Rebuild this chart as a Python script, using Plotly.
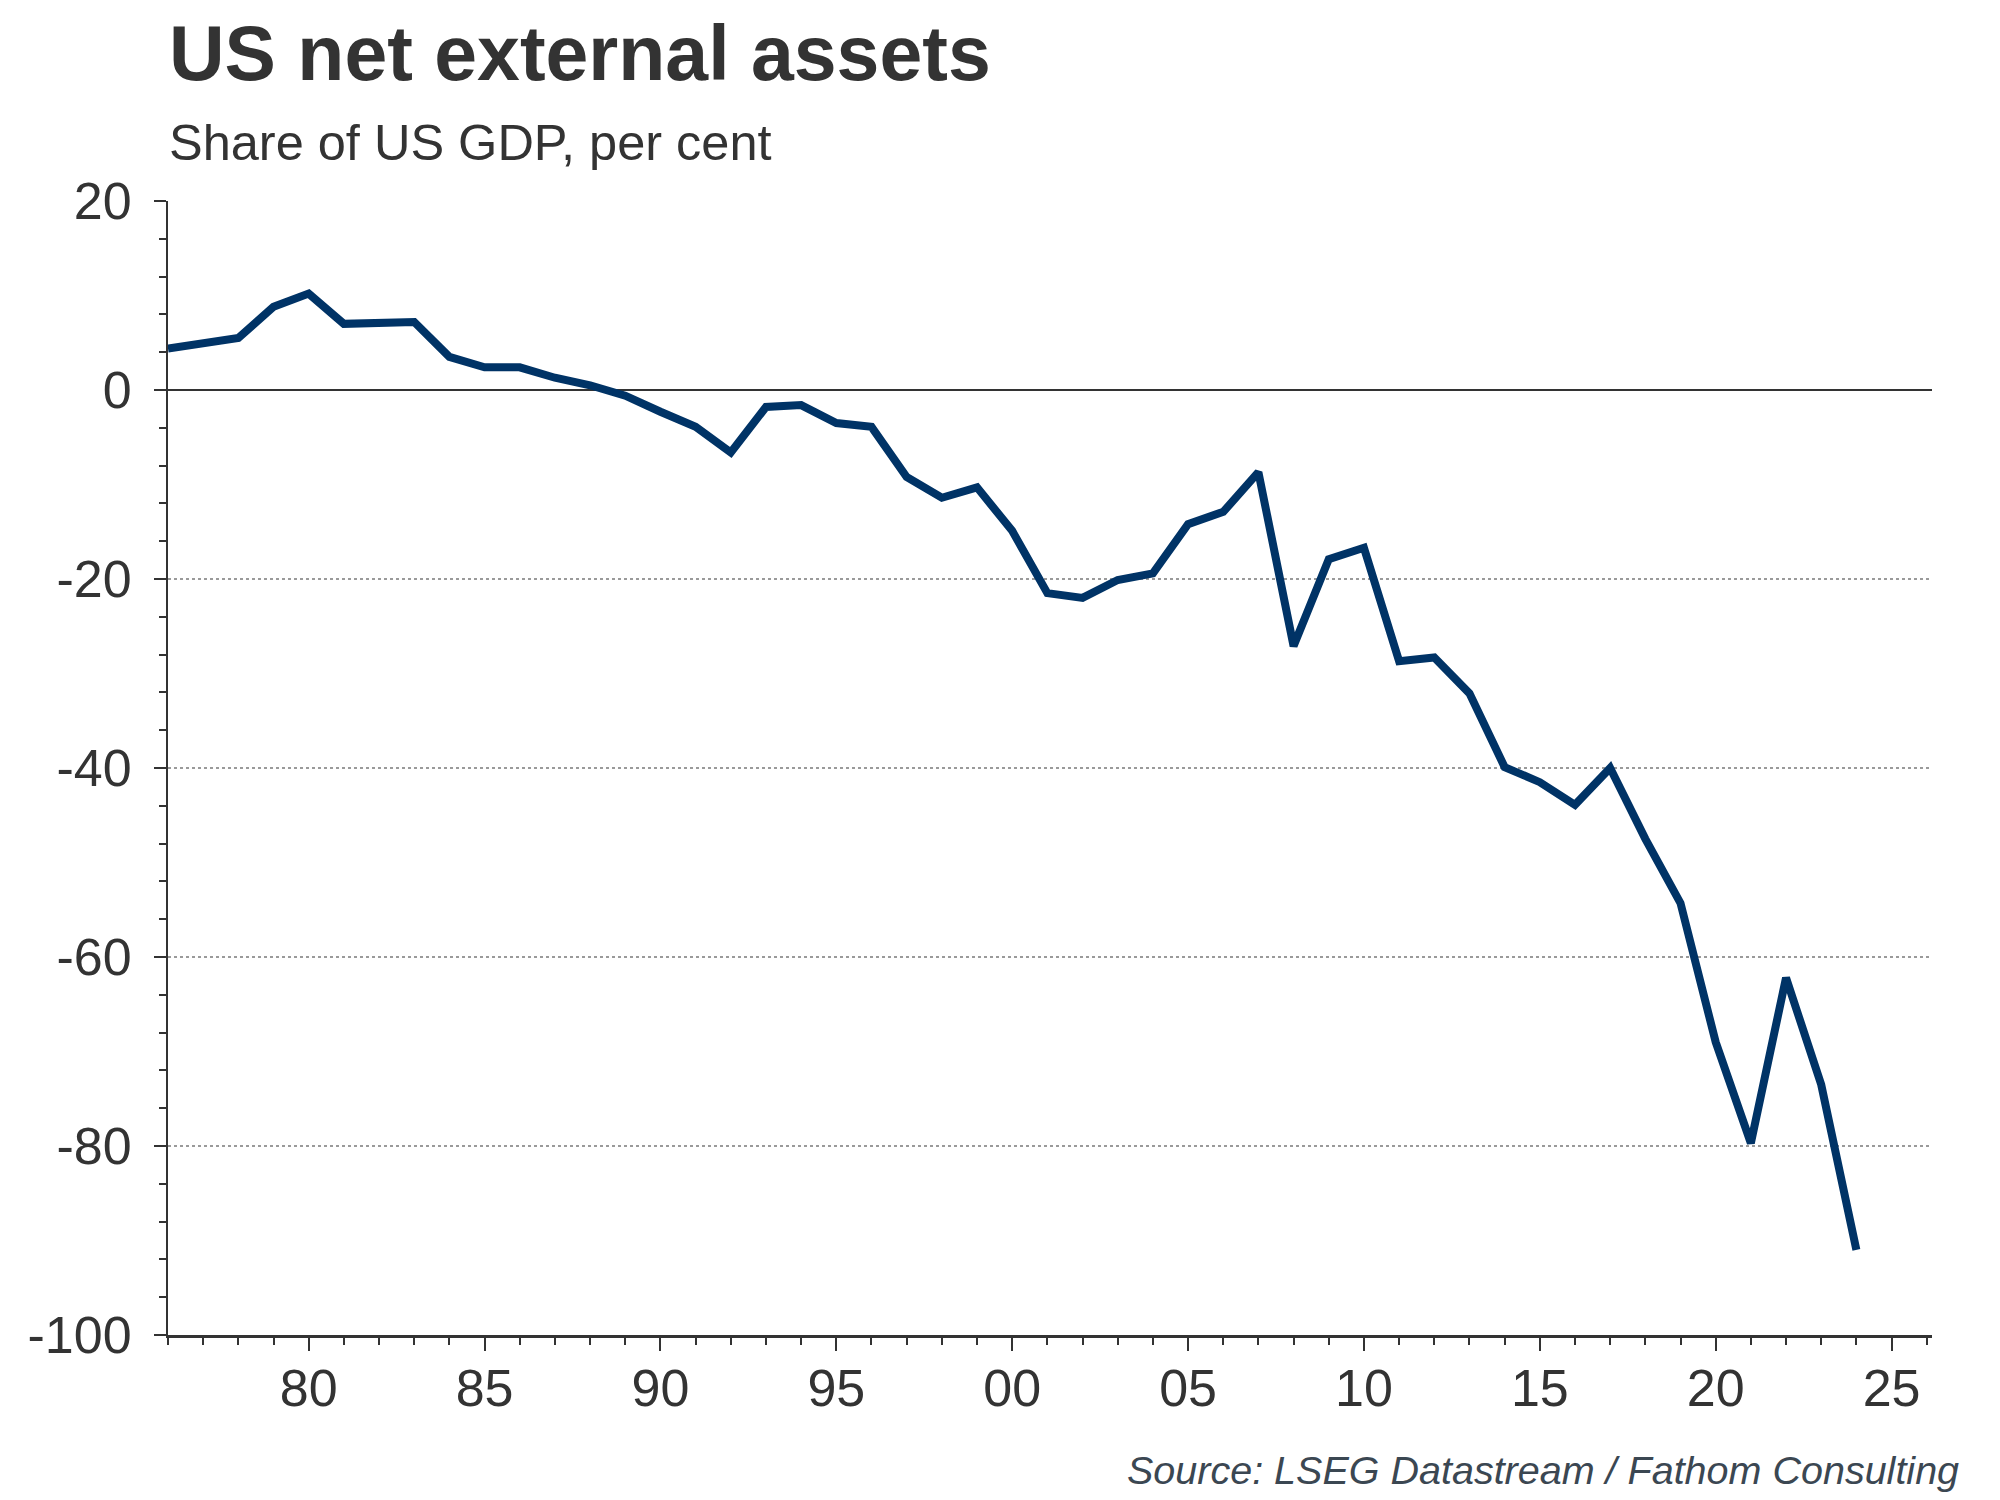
import plotly.graph_objects as go

# ---- data ----
years = list(range(1976, 2025))
net_external_assets = [
    4.4, 4.9, 5.5, 8.8, 10.2, 7.0, 7.2, 7.2, 3.5, 2.4,
    2.4, 1.3, 0.5, -0.6, -2.3, -3.9, -6.6, -1.8, -1.6, -3.5,
    -3.9, -9.2, -11.4, -10.3, -14.9, -21.5, -22.0, -20.1, -19.4, -14.2,
    -12.9, -8.7, -27.1, -17.9, -16.7, -28.7, -28.3, -32.1, -39.9, -41.5,
    -43.9, -40.0, -47.5, -54.3, -69.0, -79.7, -62.2, -73.5, -91.0,
]
x_tick_vals = [1980, 1985, 1990, 1995, 2000, 2005, 2010, 2015, 2020, 2025]
x_tick_text = ["80", "85", "90", "95", "00", "05", "10", "15", "20", "25"]
y_tick_vals = [20, 0, -20, -40, -60, -80, -100]
y_tick_text = ["20", "0", "-20", "-40", "-60", "-80", "-100"]

title_text = "US net external assets"
subtitle_text = "Share of US GDP, per cent"
source_text = "Source: LSEG Datastream / Fathom Consulting"

FONT = "Liberation Sans, Arial, Helvetica, sans-serif"
DARK = "#333333"

W, H = 2000, 1500
L, R, T, B = 160, 1924, 193, 1327


def px(x):
    return (x - L) / (R - L)


def py(y):
    return (B - y) / (B - T)


fig = go.Figure()
fig.add_trace(go.Scatter(
    x=years, y=net_external_assets, mode="lines",
    line=dict(color="#003366", width=8),
    hoverinfo="x+y", showlegend=False,
))

fig.update_layout(
    width=W, height=H,
    margin=dict(l=L, r=W - R, t=T, b=H - B, autoexpand=False),
    paper_bgcolor="white", plot_bgcolor="white",
    font=dict(family=FONT, color=DARK, size=52),
    showlegend=False,
)

fig.update_xaxes(
    range=[1976, 2026.15],
    tickmode="array", tickvals=x_tick_vals, ticktext=x_tick_text,
    showgrid=False, zeroline=False,
    showline=True, linecolor=DARK, linewidth=2.5,
    ticks="outside", ticklen=13, tickwidth=2, tickcolor=DARK,
    ticklabelstandoff=-7,
    tickfont=dict(size=52, color=DARK, family=FONT),
    minor=dict(tickmode="linear", tick0=1976, dtick=1, ticks="outside",
               ticklen=7, tickwidth=1.5, tickcolor=DARK, showgrid=False),
)

fig.update_yaxes(
    range=[-100, 20],
    tickmode="array", tickvals=y_tick_vals, ticktext=y_tick_text,
    showgrid=True, gridcolor="#9a9a9a", gridwidth=1.5, griddash="dot",
    zeroline=True, zerolinecolor=DARK, zerolinewidth=2,
    showline=True, linecolor=DARK, linewidth=2,
    ticks="outside", ticklen=12, tickwidth=2, tickcolor=DARK,
    ticklabelstandoff=12,
    tickfont=dict(size=52, color=DARK, family=FONT),
    minor=dict(tickmode="linear", tick0=0, dtick=4, ticks="outside",
               ticklen=7, tickwidth=1.5, tickcolor=DARK, showgrid=False),
)

fig.add_annotation(
    text="<b>" + title_text + "</b>", xref="paper", yref="paper",
    x=px(158.5), y=py(45), xanchor="left", yanchor="middle",
    showarrow=False, font=dict(size=77, color=DARK, family=FONT),
)
fig.add_annotation(
    text=subtitle_text, xref="paper", yref="paper",
    x=px(158.5), y=py(134), xanchor="left", yanchor="middle",
    showarrow=False, font=dict(size=50.5, color=DARK, family=FONT),
)
fig.add_annotation(
    text="<i>" + source_text + "</i>", xref="paper", yref="paper",
    x=px(1953), y=py(1462), xanchor="right", yanchor="middle",
    showarrow=False, font=dict(size=39.5, color="#3b4752", family=FONT),
)

fig.write_html("out.html")
